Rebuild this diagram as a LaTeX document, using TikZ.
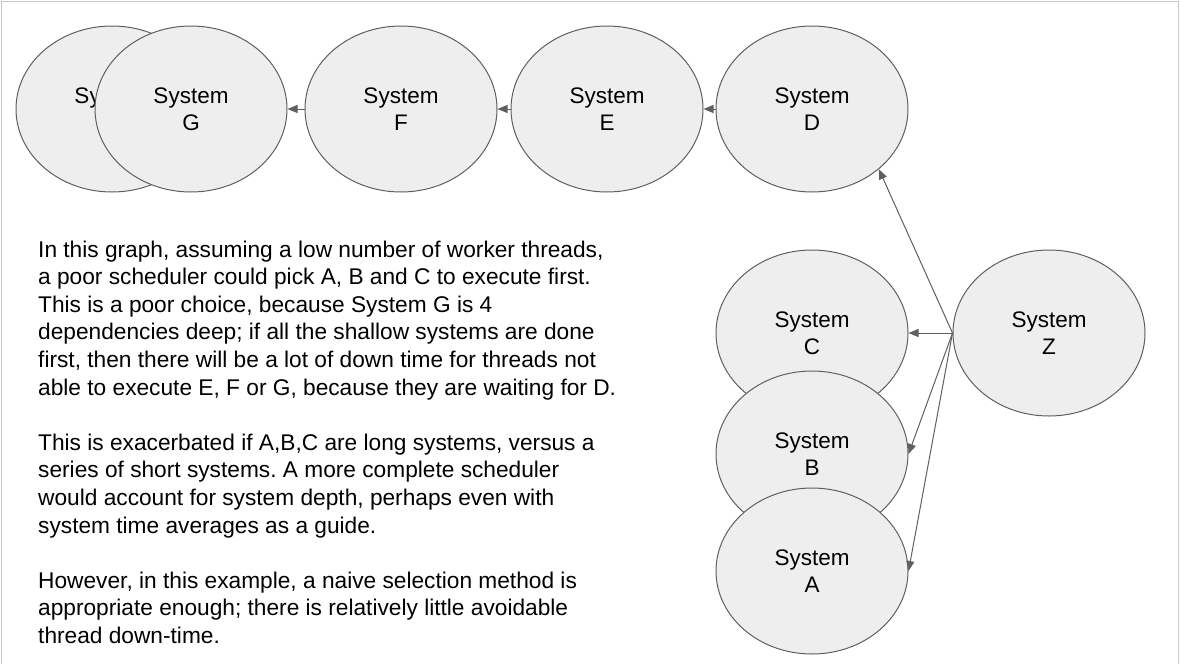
\documentclass[tikz,border=0pt]{standalone}
\usepackage{fontspec}
\setmainfont{Liberation Sans}
\usetikzlibrary{shapes.geometric,arrows.meta}
\definecolor{sysfill}{HTML}{EEEEEE}
\definecolor{sysline}{HTML}{5F5F5F}
\definecolor{framegray}{HTML}{C8C8C8}

\begin{document}
\begin{tikzpicture}[x=1pt, y=-1pt,
   every node/.style={inner sep=0pt},
   sys/.style={ellipse, draw=sysline, fill=sysfill, line width=1pt,
               minimum width=192pt, minimum height=166pt, align=center,
               font=\fontsize{22.5}{27}\selectfont},
   dep/.style={draw=sysline, line width=1pt, -{Triangle[length=10pt,width=8pt]}},
   note/.style={anchor=north west, align=left,
                font=\fontsize{22.7}{27.6}\selectfont\frenchspacing}]

\useasboundingbox (0,0) rectangle (1180,664);
\draw[framegray, line width=1pt] (1,664) -- (1,1) -- (1178,1) -- (1178,664);

% top row
\node[sys] (X) at (112,109) {System\\\phantom{G}};
\node[sys] (G) at (191,109) {System\\G};
\node[sys] (F) at (401,109) {System\\F};
\node[sys] (E) at (607,109) {System\\E};
\node[sys] (D) at (812,109) {System\\D};

% right column
\node[sys] (C) at (812,333) {System\\C};
\node[sys] (B) at (812,454) {System\\B};
\node[sys] (A) at (812,571) {System\\A};
\node[sys] (Z) at (1049,333) {System\\Z};

\draw[dep] (F) -- (G);
\draw[dep] (E) -- (F);
\draw[dep] (D) -- (E);
\draw[dep] (Z.west) -- (D.-42);
\draw[dep] (Z.west) -- (C);
\draw[dep] (Z.west) -- (B.east);
\draw[dep] (Z.west) -- (A.east);

\node[note] (txt) at (38,240.5) {In this graph, assuming a low number of worker threads,\\
a poor scheduler could pick A, B and C to execute first.\\
This is a poor choice, because System G is 4\\
dependencies deep; if all the shallow systems are done\\
first, then there will be a lot of down time for threads not\\
able to execute E, F or G, because they are waiting for D.\\[27.6pt]
This is exacerbated if A,B,C are long systems, versus a\\
series of short systems. A more complete scheduler\\
would account for system depth, perhaps even with\\
system time averages as a guide.\\[27.6pt]
However, in this example, a naive selection method is\\
appropriate enough; there is relatively little avoidable\\
thread down-time.};

\end{tikzpicture}
\end{document}
